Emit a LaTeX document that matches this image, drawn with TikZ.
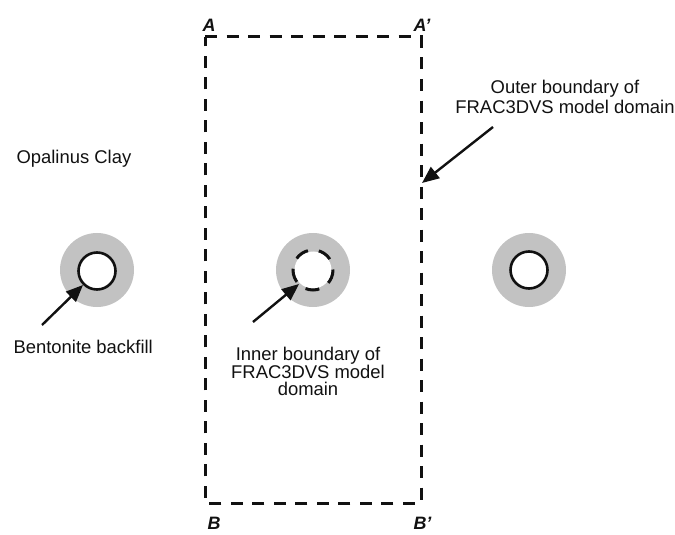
\documentclass[tikz,border=0pt]{standalone}
\usepackage{fontspec}
\setmainfont{Liberation Sans}
\usetikzlibrary{arrows.meta}
\definecolor{ink}{HTML}{111111}
\definecolor{backfill}{HTML}{C2C2C2}

\begin{document}
\begin{tikzpicture}[x=1bp,y=-1bp,font=\fontsize{18.5}{19}\selectfont,
 pointer/.style={draw=ink,line width=2.4bp,-{Triangle[length=17bp,width=14bp]}},
 boundary/.style={draw=ink,line width=3bp,dash pattern=on 12bp off 9.5bp},
 well/.style={circle,draw=ink,fill=white,line width=2.6bp,minimum size=37bp,inner sep=0pt},
 corner/.style={anchor=base west,text=ink,font=\fontsize{18}{18}\selectfont\bfseries\itshape}]
\useasboundingbox (0,0) rectangle (675,535);
% 1: the three wells in the clay, each with its backfill ring
\foreach \x in {97,313,529} {\fill[backfill] (\x,270) circle (37);}
\node[well] (wellL) at (97,271) {};
\node[well,draw=none] (wellM) at (313,270) {};
\draw[ink,line width=3bp,dash pattern=on 14bp off 11bp] (313,270) circle (20);
\node[well] (wellR) at (529,270) {};
% 2: the model domain
\coordinate (a) at (205,37); \coordinate (a') at (421,37);
\coordinate (b) at (205,503); \coordinate (b') at (421,503);
\draw[boundary] (a) -- (a') -- (b') -- (b) -- cycle;
\node[corner] (labA) at (199,32) {A};
\node[corner] (labA') at (410,32) {A'};
\node[corner] (labB) at (204,529) {B};
\node[corner] (labB') at (410,529) {B'};
% 3: labels and pointers
\node[anchor=west,text=ink] (clay) at (13,159) {Opalinus Clay};
\node[anchor=north west,text=ink] (bentonite) at (10,337) {Bentonite backfill};
\coordinate (tailL) at (42,325);
\draw[pointer] (tailL) -- (wellL.225);
\node[align=center,text=ink,font=\fontsize{18.5}{17}\selectfont] (inner) at (308,371) {Inner boundary of\\FRAC3DVS model\\domain};
\coordinate (tailM) at (253,322);
\draw[pointer] (tailM) -- (wellM.225);
\node[align=center,text=ink,font=\fontsize{18.5}{20}\selectfont] (outer) at (565,97) {Outer boundary of\\FRAC3DVS model domain};
\coordinate (tailR) at (493,127); \coordinate (edgeR) at (422,183);
\draw[pointer] (tailR) -- (edgeR);
\end{tikzpicture}
\end{document}
